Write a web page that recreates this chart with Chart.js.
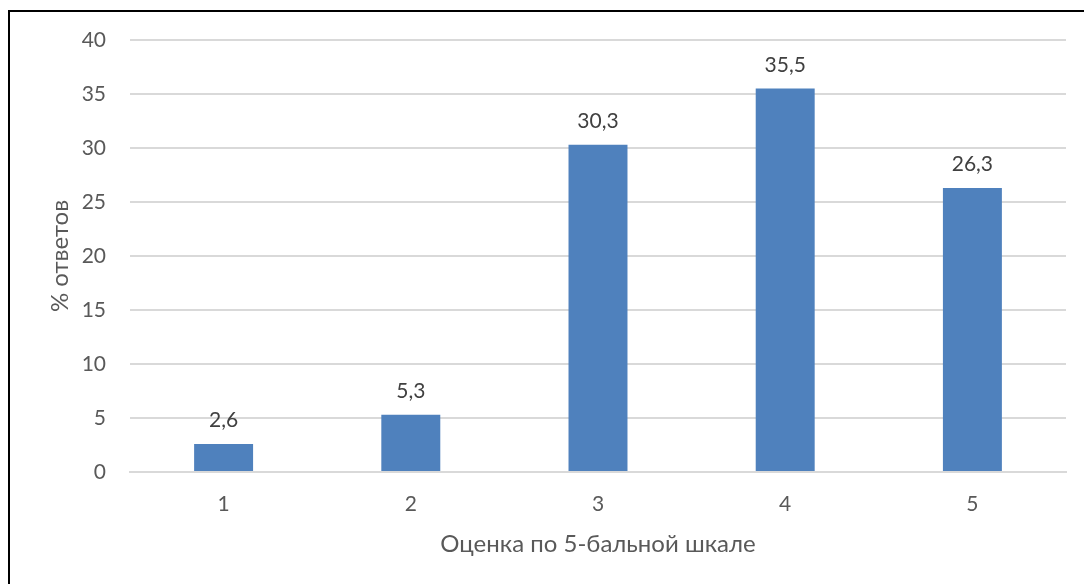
<!DOCTYPE html>
<html>
<head>
<meta charset="utf-8">
<script src="https://cdn.jsdelivr.net/npm/chart.js@4.4.1/dist/chart.umd.min.js"></script>
<style>
  html, body { margin:0; padding:0; background:#fff; }
  #wrap { position:relative; width:1084px; height:584px; overflow:hidden; }
  #frame { position:absolute; left:8px; top:10px; right:-2px; bottom:-2px; border-left:2px solid #000; border-top:2px solid #000; pointer-events:none; }
  canvas { position:absolute; left:0; top:0; }
</style>
</head>
<body>
<div id="wrap">
  <canvas id="chart" width="1084" height="584"></canvas>
  <div id="frame"></div>
</div>
<script>
// data
const grades = ['1', '2', '3', '4', '5'];
const percents = [2.6, 5.3, 30.3, 35.5, 26.3];
const yTicks = [0, 5, 10, 15, 20, 25, 30, 35, 40];

const FONT = 'Lato, "Open Sans", sans-serif';
const fmt = v => String(v).replace('.', ',');

// value labels above bars
const barLabels = {
  id: 'barLabels',
  afterDatasetsDraw(chart){
    const ctx = chart.ctx;
    const meta = chart.getDatasetMeta(0);
    ctx.save();
    ctx.font = '21px ' + FONT;
    ctx.fillStyle = '#404040';
    ctx.textAlign = 'center';
    ctx.textBaseline = 'alphabetic';
    meta.data.forEach((bar, i)=>{
      ctx.fillText(fmt(percents[i]), bar.x, bar.y - 17);
    });
    ctx.restore();
  }
};

new Chart(document.getElementById('chart'), {
  type: 'bar',
  data: {
    labels: grades,
    datasets: [{
      data: percents,
      backgroundColor: '#4F81BD',
      categoryPercentage: 1,
      barPercentage: 0.315
    }]
  },
  options: {
    responsive: false,
    animation: false,
    layout: { padding: { left: 0, top: 40, right: 18, bottom: 0 } },
    plugins: { legend: { display: false }, tooltip: { enabled: false } },
    scales: {
      x: {
        grid: { display: false },
        border: { color: '#d9d9d9', width: 2 },
        ticks: { color: '#595959', font: { family: FONT, size: 21 }, padding: 12 },
        title: {
          display: true, text: 'Оценка по 5-бальной шкале',
          color: '#595959', font: { family: FONT, size: 24 },
          padding: { top: 0, bottom: 25 }
        },
        afterFit(s){ s.height = 112; }
      },
      y: {
        min: 0, max: 40,
        afterBuildTicks(s){ s.ticks = yTicks.map(v => ({ value: v })); },
        grid: { color: '#d9d9d9', lineWidth: 2, drawTicks: false },
        border: { display: false },
        ticks: { color: '#595959', font: { family: FONT, size: 21 }, padding: 24 },
        title: {
          display: true, text: '% ответов',
          color: '#595959', font: { family: FONT, size: 24 },
          padding: { top: 46, bottom: 0 }
        },
        afterFit(s){ s.width = 130; }
      }
    }
  },
  plugins: [barLabels]
});
</script>
</body>
</html>
